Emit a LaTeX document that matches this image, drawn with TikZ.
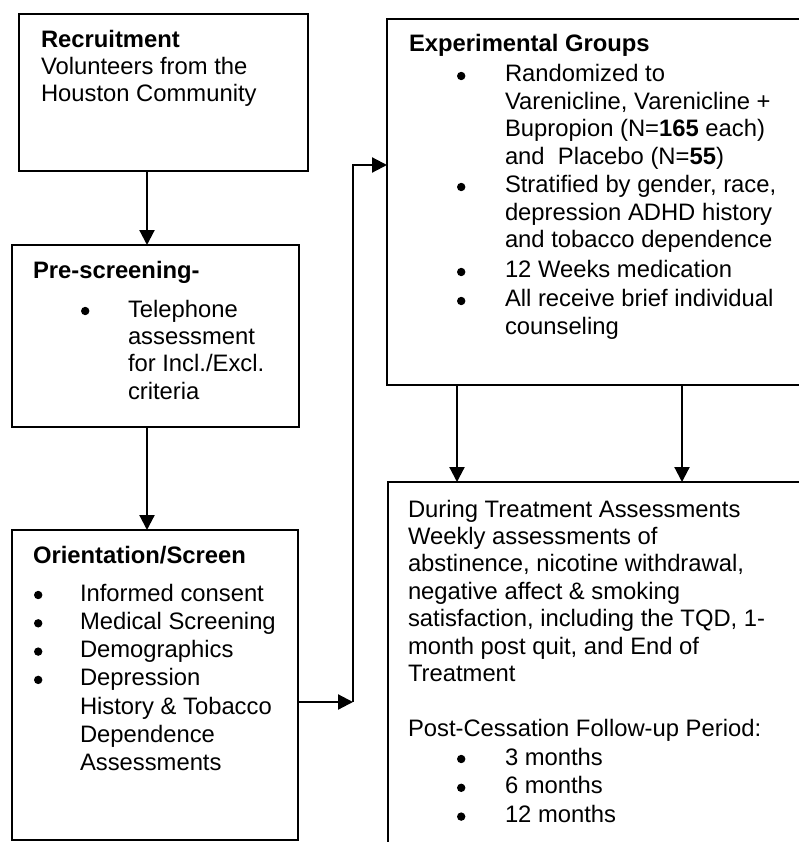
\documentclass[tikz,border=0pt]{standalone}
\usepackage{fontspec}
\setmainfont{Liberation Sans}
\usetikzlibrary{arrows.meta}
\newcommand{\fsz}[1]{\fontsize{23.8pt}{#1}\selectfont\raggedright}
\newcommand{\bdot}{\raisebox{1.8pt}{\tikz{\fill (0,0) circle[radius=4.2pt];}}}
\newcommand{\blt}[2]{\hspace*{#1}\makebox[#2][l]{\bdot}}
\begin{document}
\begin{tikzpicture}[x=1pt,y=-1pt,
  box/.style={draw, line width=2.7pt, rectangle, inner sep=0pt, outer sep=0pt, anchor=north west},
  arr/.style={line width=2.2pt, -{Triangle[length=15pt,width=15pt]}},
  txt/.style={anchor=base west, inner sep=0pt, outer sep=0pt}]
\useasboundingbox (0,0) rectangle (799,842);
\clip (0,0) rectangle (799,842);

% boxes
\node[box, minimum width=289pt, minimum height=157pt] (b1) at (19,14) {};
\node[box, minimum width=287pt, minimum height=182pt] (b2) at (12,245) {};
\node[box, minimum width=286pt, minimum height=310pt] (b3) at (12,530) {};
\node[box, minimum width=460pt, minimum height=366pt] (b4) at (387,19) {};
\node[box, minimum width=460pt, minimum height=420pt] (b5) at (388,482) {};

% texts
\node[txt] (t1) at (41,48) {\parbox[t]{400pt}{\fsz{27pt}%
\textbf{Recruitment}\\
Volunteers from the\\
Houston Community}};

\node[txt] (t2) at (33,278) {\parbox[t]{400pt}{\fsz{27.4pt}%
\textbf{Pre-screening-}\\[11.6pt]
\blt{48pt}{47pt}Telephone\\
\hspace*{95pt}assessment\\
\hspace*{95pt}for Incl./Excl.\\
\hspace*{95pt}criteria}};

\node[txt] (t3) at (33,563) {\parbox[t]{400pt}{\fsz{28.3pt}%
\textbf{Orientation/Screen}\\[9.7pt]
\blt{1pt}{46pt}Informed consent\\
\blt{1pt}{46pt}Medical Screening\\
\blt{1pt}{46pt}Demographics\\
\blt{1pt}{46pt}Depression\\
\hspace*{47pt}History \& Tobacco\\
\hspace*{47pt}Dependence\\
\hspace*{47pt}Assessments}};

\node[txt] (t4) at (409,52) {\parbox[t]{400pt}{\fsz{27.4pt}%
\textbf{Experimental Groups}\\[2.6pt]
\blt{48pt}{48pt}Randomized to\\
\hspace*{96pt}Varenicline, Varenicline +\\
\hspace*{96pt}Bupropion (N=\textbf{165} each)\\
\hspace*{96pt}and\ \ Placebo (N=\textbf{55})\\[1.4pt]
\blt{48pt}{48pt}Stratified by gender, race,\\
\hspace*{96pt}depression ADHD history\\
\hspace*{96pt}and tobacco dependence\\[2.8pt]
\blt{48pt}{48pt}12 Weeks medication\\[1.6pt]
\blt{48pt}{48pt}All receive brief individual\\
\hspace*{96pt}counseling}};

\node[txt] (t5) at (408,517) {\parbox[t]{400pt}{\fsz{27.4pt}%
During Treatment Assessments\\
Weekly assessments of\\
abstinence, nicotine withdrawal,\\
negative affect \& smoking\\
satisfaction, including the TQD, 1-\\
month post quit, and End of\\
Treatment\\[27.4pt]
Post-Cessation Follow-up Period:\\[1.4pt]
\blt{49pt}{48pt}3 months\\[1.4pt]
\blt{49pt}{48pt}6 months\\[1.4pt]
\blt{49pt}{48pt}12 months}};

% connectors
\coordinate (xa) at (147,0);
\coordinate (xb) at (457,0);
\coordinate (xc) at (682,0);
\coordinate (ya) at (0,702);
\coordinate (yb) at (0,165);
\coordinate (turn) at (353,702);
\draw[arr] (b1.south -| xa) -- (b2.north -| xa);
\draw[arr] (b2.south -| xa) -- (b3.north -| xa);
\draw[arr] (b3.east |- ya) -- (turn);
\draw[arr] (turn) |- (b4.west |- yb);
\draw[arr] (b4.south -| xb) -- (b5.north -| xb);
\draw[arr] (b4.south -| xc) -- (b5.north -| xc);
\end{tikzpicture}
\end{document}
